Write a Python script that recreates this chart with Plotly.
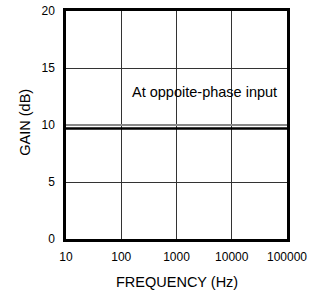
import plotly.graph_objects as go

freq = [10, 100000]
gain_main = [9.7, 9.7]
gain_ref = [10.0, 10.0]
x_ticks = [10, 100, 1000, 10000, 100000]
x_tick_labels = ["10", "100", "1000", "10000", "100000"]
y_ticks = [0, 5, 10, 15, 20]

fig = go.Figure()
fig.add_trace(go.Scatter(x=freq, y=gain_ref, mode="lines",
                         line=dict(color="#888888", width=2), showlegend=False))
fig.add_trace(go.Scatter(x=freq, y=gain_main, mode="lines",
                         line=dict(color="#000000", width=2.5), showlegend=False))

fig.add_annotation(x=3.507, y=12.9, xref="x", yref="y", text="At oppoite-phase input",
                   showarrow=False, font=dict(size=14.5, color="#000000"))
fig.add_annotation(x=0.5, y=-0.189, xref="paper", yref="paper", text="FREQUENCY (Hz)",
                   showarrow=False, font=dict(size=14.5, color="#000000"),
                   xanchor="center", yanchor="middle")
fig.add_annotation(x=-0.1855, y=0.51, xref="paper", yref="paper", text="GAIN (dB)",
                   showarrow=False, font=dict(size=14.5, color="#000000"), textangle=-90,
                   xanchor="center", yanchor="middle")

font_family = "Liberation Sans, Arial, sans-serif"
fig.update_layout(
    width=317, height=295,
    margin=dict(l=66, r=30, t=11, b=56, autoexpand=False),
    paper_bgcolor="white", plot_bgcolor="white",
    font=dict(family=font_family, color="#000000", size=12),
    xaxis=dict(type="log", range=[1, 5], tickvals=x_ticks, ticktext=x_tick_labels,
               showgrid=True, gridcolor="#333333", gridwidth=1,
               showline=True, linecolor="#000000", linewidth=2.5, mirror=True,
               ticks="", zeroline=False, tickfont=dict(size=12),
               ticklabelstandoff=5, automargin=False),
    yaxis=dict(range=[0, 20], tickvals=y_ticks,
               showgrid=True, gridcolor="#333333", gridwidth=1,
               showline=True, linecolor="#000000", linewidth=2.5, mirror=True,
               ticks="", zeroline=False, tickfont=dict(size=12),
               ticklabelstandoff=6, automargin=False),
)

fig.write_html("out.html", config={"displayModeBar": False},
               post_script="document.body.style.margin='0';document.body.style.overflow='hidden';")
